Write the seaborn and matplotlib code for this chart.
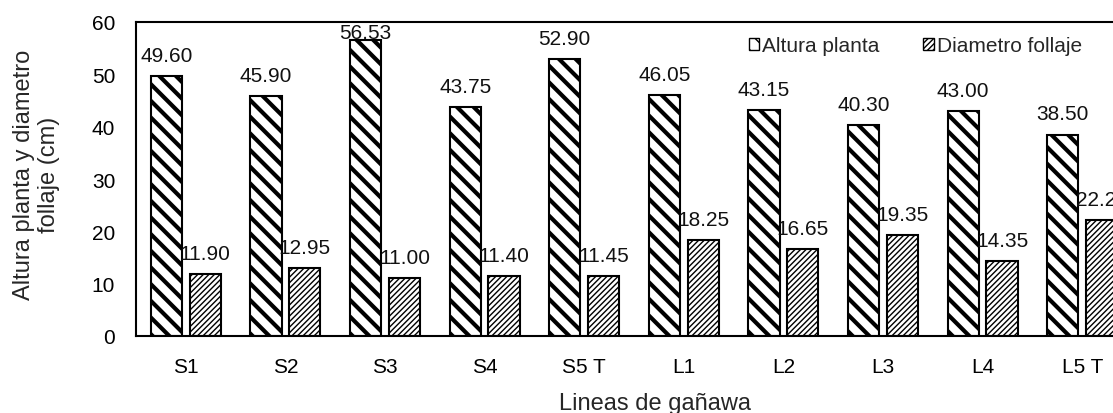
import numpy as np
import pandas as pd
import matplotlib
matplotlib.use("Agg")
import matplotlib.pyplot as plt
import seaborn as sns

lineas = ["S1", "S2", "S3", "S4", "S5 T", "L1", "L2", "L3", "L4", "L5 T"]
altura_planta = [49.60, 45.90, 56.53, 43.75, 52.90, 46.05, 43.15, 40.30, 43.00, 38.50]
diametro_follaje = [11.90, 12.95, 11.00, 11.40, 11.45, 18.25, 16.65, 19.35, 14.35, 22.20]
series = ["Altura planta", "Diametro follaje"]
y_ticks = [0, 10, 20, 30, 40, 50, 60]

df = pd.DataFrame({
    "linea": lineas * 2,
    "serie": [series[0]] * len(lineas) + [series[1]] * len(lineas),
    "valor": altura_planta + diametro_follaje,
})

sns.set_theme(style="white")
plt.rcParams["font.family"] = ["Liberation Sans", "DejaVu Sans"]
plt.rcParams["hatch.color"] = "black"

fig = plt.figure(figsize=(11.13, 4.14), dpi=100)
ax = fig.add_axes([136 / 1113, (414 - 337) / 414, 996 / 1113, 314 / 414])

sns.barplot(data=df, x="linea", y="valor", hue="serie", order=lineas,
            hue_order=series, palette=["white", "white"], width=0.78, gap=0.2,
            edgecolor="black", linewidth=1.5, saturation=1, ax=ax)

ax.set_ylim(0, 60)
ymax = ax.get_ylim()[1]

hatches = ["\\\\", "//////"]
hatch_lw = [3.0, 1.0]
for cont, h, lw in zip(ax.containers, hatches, hatch_lw):
    for bar in cont:
        bar.set_hatch(h)
        try:
            bar.set_hatch_linewidth(lw)
        except AttributeError:
            pass
    labels = ax.bar_label(cont, fmt="%.2f", padding=8, fontsize=15, color="#111111")
    # like Excel: keep labels inside the plot area
    for bar, lab in zip(cont, labels):
        if bar.get_height() > ymax - 6:
            lab.xy = (bar.get_x() + bar.get_width() / 2, ymax)
            lab.xyann = (0, -1)
            lab.set_va("top")

ax.set_yticks(y_ticks)
ax.tick_params(axis="both", length=0, labelsize=15, colors="black", pad=15)
ax.set_xlabel("Lineas de gañawa", fontsize=17)
ax.xaxis.set_label_coords((655 - 136) / 996, (337 - 393) / 314)
ax.set_ylabel("Altura planta y diametro\nfollaje (cm)", fontsize=17,
              linespacing=1.15)
ax.yaxis.set_label_coords((60 - 136) / 996, 0.515)

for side in ["left", "bottom", "top", "right"]:
    ax.spines[side].set_visible(True)
    ax.spines[side].set_color("black")
    ax.spines[side].set_linewidth(1.5)

handles, labels = ax.get_legend_handles_labels()
leg = ax.legend(handles, labels, ncol=2, frameon=False, fontsize=15,
                loc="upper right", bbox_to_anchor=((1082 - 136) / 996, (337 - 37) / 314),
                handlelength=0.5, handleheight=0.5, handletextpad=0.15,
                columnspacing=2.1, borderaxespad=0, borderpad=0)
for hnd, h in zip(leg.legend_handles, hatches):
    hnd.set_hatch(h)
    hnd.set_linewidth(1.0)

fig.savefig("out.png", dpi=100)
